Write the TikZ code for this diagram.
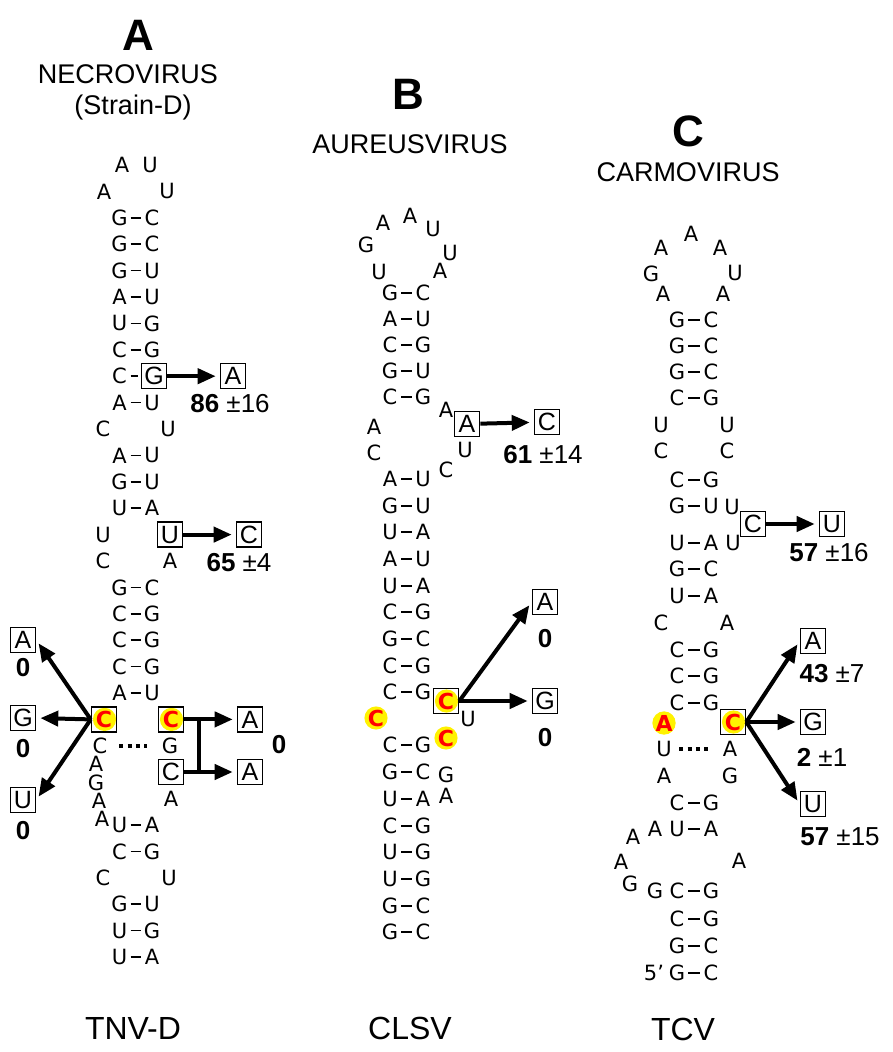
\documentclass[tikz,border=0pt]{standalone}
\usepackage{fontspec}
\setmainfont{Liberation Sans}
\newfontfamily\ntfont{DejaVu Sans}
\usetikzlibrary{arrows.meta}

\tikzset{
  nt/.style={font=\ntfont\fontsize{10.5}{12}\selectfont, inner sep=0pt, minimum width=8pt},
  pr/.style={line width=0.8pt, shorten <=1.3pt, shorten >=1.3pt},
  mut/.style={draw, line width=0.8pt, inner sep=0pt, minimum size=12.5pt, font=\fontsize{12.5}{12}\selectfont},
  hot/.style={mut, text=red, font=\ntfont\bfseries\fontsize{11}{12}\selectfont},
  hotc/.style={circle, fill=yellow, inner sep=0pt, minimum size=11pt, text=red, font=\ntfont\bfseries\fontsize{11}{12}\selectfont},
  arr/.style={line width=2pt, shorten >=2pt, -{Triangle[length=9pt,width=7.5pt]}},
  val/.style={font=\fontsize{13}{14}\selectfont},
  zero/.style={font=\bfseries\fontsize{13}{14}\selectfont},
  dots/.style={line width=2pt, dash pattern=on 2pt off 2.1pt},
  head/.style={font=\bfseries\fontsize{22}{24}\selectfont},
  genus/.style={font=\fontsize{13.5}{15}\selectfont},
  virus/.style={font=\fontsize{16}{18}\selectfont}
}

\begin{document}
\begin{tikzpicture}[x=0.5pt,y=-0.5pt]
\useasboundingbox (0,0) rectangle (892,1052);

% titles
\node[head] (hA) at (138,35) {A};
\node[genus] (gA) at (128,74) {NECROVIRUS};
\node[genus] (sA) at (133,108) {(Strain-D)};
\node[head] (hB) at (408,94) {B};
\node[genus] (gB) at (410,144) {AUREUSVIRUS};
\node[head] (hC) at (688,131) {C};
\node[genus] (gC) at (688,172) {CARMOVIRUS};
\node[virus] (vA) at (133,1028) {TNV-D};
\node[virus] (vB) at (410,1028) {CLSV};
\node[virus] (vC) at (683,1029) {TCV};

% A: TNV-D
\foreach \i/\p/\q in {2/G/C,3/G/C,4/G/U,5/A/U,6/U/G,7/C/G,9/A/U,11/A/U,12/G/U,13/U/A,16/G/C,17/C/G,18/C/G,19/C/G,20/A/U,25/U/A,26/C/G,28/G/U,29/U/G,30/U/A}{
  \node[nt] (aL\i) at (119.5,{165+26.4*\i}) {\p};
  \node[nt] (aR\i) at (152,{165+26.4*\i}) {\q};
  \draw[pr] (aL\i) -- (aR\i);
}
\foreach \nm/\xx/\yy/\s in {a1/122/165/A,a2/150/165/U,a3/104/191.4/A,a4/167/191.4/U,a5/103/429/C,a6/168/429/U,a7/103/534.6/U,a8/103/561/C,a9/170/561/A,a10/100/745.8/C,a11/170/745.8/G,a12/96/764/A,a13/96/783/G,a14/99/801/A,a15/102/819/A,a16/171/798.6/A,a17/103/877.8/C,a18/169/877.8/U}
  \node[nt] (\nm) at (\xx,\yy) {\s};
\draw[dots, shorten <=5.5pt, shorten >=7pt] (a10) -- (a11);

\node[nt] (aL8) at (119.5,376.2) {C};
\node[mut] (aG8) at (154,376.2) {G};
\draw[pr] (aL8) -- (aG8);
\node[mut] (aA8) at (233,376.2) {A};
\node[val] (aV8) at (230,404) {\textbf{86} ±16};
\draw[arr] (aG8) -- (aA8);

\node[mut] (aU14) at (170,534.6) {U};
\node[mut] (aC14) at (249,534.6) {C};
\node[val] (aV14) at (239,563) {\textbf{65} ±4};
\draw[arr] (aU14) -- (aC14);

\fill[yellow] (104.5,719.4) circle[radius=5.8pt];
\node[hot] (aCl) at (104,719.4) {C};
\fill[yellow] (171.5,719.4) circle[radius=5.8pt];
\node[hot] (aCr) at (171,719.4) {C};
\node[mut] (aC23) at (171,772) {C};

\node[mut] (aA21) at (23,640) {A};
\node[zero] (aZ1) at (23,668) {0};
\node[mut] (aG21) at (23,718) {G};
\node[zero] (aZ2) at (23,749) {0};
\node[mut] (aU21) at (23,800) {U};
\node[zero] (aZ3) at (23,831) {0};
\draw[arr] (aCl.west) -- (aA21.east);
\draw[arr] (aCl.west) -- (aG21.east);
\draw[arr] (aCl.west) -- (aU21.east);

\node[mut] (aA21r) at (250,719.4) {A};
\node[mut] (aA23) at (250,772) {A};
\node[zero] (aZ4) at (279,745) {0};
\draw[arr] (aCr) -- (aA21r);
\draw[arr] (aC23) -- (aA23);
\coordinate (aBar) at (199,719.4);
\draw[line width=2pt] (aBar) -- (aBar |- aC23);

% B: CLSV
\foreach \yy/\p/\q [count=\k] in {293/G/C,319/A/U,345/C/G,371/G/U,397/C/G,479/A/U,506/G/U,532/U/A,559/A/U,586/U/A,612/C/G,639/G/C,666/C/G,692/C/G,745/C/G,772/G/C,799/U/A,826/C/G,852/U/G,879/U/G,906/G/C,932/G/C}{
  \node[nt] (bL\k) at (390,\yy) {\p};
  \node[nt] (bR\k) at (423,\yy) {\q};
  \draw[pr] (bL\k) -- (bR\k);
}
\foreach \nm/\xx/\yy/\s in {b1/383/223/A,b2/410/216/A,b3/433/229/U,b4/366/245/G,b5/450/253/U,b6/379/272/U,b7/440/271/A,b8/446/410/A,b9/374/427/A,b10/374/453/C,b11/465/450/U,b12/446/470/C,b13/468/719/U,b14/446/775/G,b15/446/796/A}
  \node[nt] (\nm) at (\xx,\yy) {\s};

\node[mut] (bA) at (467,424) {A};
\node[mut] (bC) at (547,422) {C};
\node[val] (bV) at (543,455) {\textbf{61} ±14};
\draw[arr] (bA) -- (bC);

\node[hotc] (bCl) at (376,718) {C};
\node[hotc] (bCd) at (446,738) {C};
\fill[yellow] (446.5,701) circle[radius=5.8pt];
\node[hot] (bCr) at (446,701) {C};
\node[mut] (bA2) at (545,602) {A};
\node[zero] (bZ1) at (545,639) {0};
\node[mut] (bG2) at (545,701) {G};
\node[zero] (bZ2) at (545,738) {0};
\draw[arr] (bCr.east) -- (bA2.west);
\draw[arr] (bCr.east) -- (bG2.west);

% C: TCV
\foreach \yy/\p/\q [count=\k] in {320/G/C,346/G/C,372/G/C,398/C/G,480/C/G,506/G/U,543/U/A,569/G/C,596/U/A,650/C/G,676/C/G,703/C/G,803/C/G,829/U/A,891/C/G,919/C/G,946/G/C,973/G/C}{
  \node[nt] (cL\k) at (677,\yy) {\p};
  \node[nt] (cR\k) at (711,\yy) {\q};
  \draw[pr] (cL\k) -- (cR\k);
}
\foreach \nm/\xx/\yy/\s in {c1/691/234/A,c2/661/248/A,c3/720/248/A,c4/651/274/G,c5/735/273/U,c6/663/294/A,c7/723/294/A,c8/661/425/U,c9/727/425/U,c10/661/451/C,c11/727/451/C,c12/732/507/U,c13/733/543/U,c14/661/623/C,c15/727/623/A,c16/664/749/U,c17/730/749/A,c18/664/776/A,c19/730/776/G,c20/655/829/A,c21/633/837/A,c22/621/862/A,c23/739/861/A,c24/630/884/G,c25/655/891/G,c26/654/973/5’}
  \node[nt] (\nm) at (\xx,\yy) {\s};
\draw[dots, shorten <=3.5pt, shorten >=6.5pt] (c16) -- (c17);

\node[mut] (cC) at (753,524) {C};
\node[mut] (cU) at (832,524) {U};
\node[val] (cV) at (829,553) {\textbf{57} ±16};
\draw[arr] (cC) -- (cU);

\node[hotc] (cAl) at (664,723) {A};
\fill[yellow] (733.5,722) circle[radius=5.8pt];
\node[hot] (cCr) at (733,722) {C};
\node[mut] (cA2) at (813,641) {A};
\node[val] (cV1) at (832,674) {\textbf{43} ±7};
\node[mut] (cG2) at (813,722) {G};
\node[val] (cV2) at (822,757) {\textbf{2} ±1};
\node[mut] (cU2) at (813,804) {U};
\node[val] (cV3) at (840,837) {\textbf{57} ±15};
\draw[arr] (cCr.east) -- (cA2.west);
\draw[arr] (cCr.east) -- (cG2.west);
\draw[arr] (cCr.east) -- (cU2.west);
\end{tikzpicture}
\end{document}
